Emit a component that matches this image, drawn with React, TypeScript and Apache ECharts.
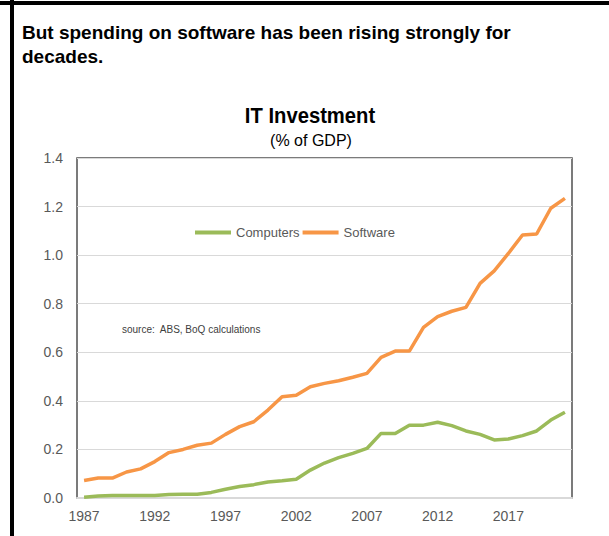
import React, { useEffect, useRef } from "react";
import * as echarts from "echarts";

const years: string[] = [
  "1987","1988","1989","1990","1991","1992","1993","1994","1995","1996",
  "1997","1998","1999","2000","2001","2002","2003","2004","2005","2006",
  "2007","2008","2009","2010","2011","2012","2013","2014","2015","2016",
  "2017","2018","2019","2020","2021",
];

const computers: number[] = [
  0.003, 0.008, 0.010, 0.010, 0.010, 0.010, 0.014, 0.015, 0.015, 0.023,
  0.036, 0.047, 0.055, 0.066, 0.071, 0.077, 0.115, 0.144, 0.166, 0.184,
  0.204, 0.266, 0.266, 0.300, 0.300, 0.312, 0.298, 0.276, 0.262, 0.239,
  0.243, 0.257, 0.276, 0.321, 0.353,
];

const software: number[] = [
  0.072, 0.082, 0.082, 0.107, 0.120, 0.150, 0.187, 0.200, 0.217, 0.226,
  0.262, 0.294, 0.314, 0.362, 0.417, 0.423, 0.458, 0.472, 0.483, 0.497,
  0.513, 0.579, 0.605, 0.605, 0.703, 0.747, 0.769, 0.785, 0.884, 0.935,
  1.007, 1.083, 1.087, 1.193, 1.234,
];

const seriesNames: string[] = ["Computers", "Software"];
const headline: string[] = [
  "But spending on software has been rising strongly for",
  "decades.",
];
const chartTitle = "IT Investment";
const chartSubtitle = "(% of GDP)";
const sourceNote = "source:  ABS, BoQ calculations";

export default function App() {
  const ref = useRef<HTMLDivElement>(null);

  useEffect(() => {
    if (!ref.current) return;
    const chart = echarts.init(ref.current, undefined, { renderer: "svg" });
    const font = "'Liberation Sans', Arial, sans-serif";
    chart.setOption({
      animation: false,
      backgroundColor: "#ffffff",
      textStyle: { fontFamily: font },
      grid: {
        left: 77,
        right: 37,
        top: 158,
        bottom: 38,
        show: true,
        borderColor: "#505050",
        borderWidth: 1.5,
        backgroundColor: "transparent",
      },
      legend: {
        data: seriesNames,
        left: 195,
        top: 226,
        padding: 0,
        icon: "rect",
        itemWidth: 36,
        itemHeight: 4,
        itemGap: 3,
        textStyle: { color: "#595959", fontSize: 13, fontFamily: font },
      },
      xAxis: {
        type: "category",
        data: years,
        boundaryGap: true,
        axisLine: { show: true, lineStyle: { color: "#d9d9d9", width: 2 } },
        axisTick: { show: false },
        axisLabel: {
          interval: 4,
          color: "#595959",
          fontSize: 14,
          margin: 11,
          fontFamily: font,
        },
        splitLine: { show: false },
      },
      yAxis: {
        type: "value",
        min: 0,
        max: 1.4,
        interval: 0.2,
        axisLine: { show: false },
        axisTick: { show: false },
        axisLabel: {
          color: "#595959",
          fontSize: 14,
          margin: 14,
          fontFamily: font,
          formatter: (v: number) => v.toFixed(1),
        },
        splitLine: { show: true, lineStyle: { color: "#d9d9d9", width: 1 } },
      },
      series: [
        {
          name: seriesNames[0],
          type: "line",
          data: computers,
          symbol: "none",
          color: "#9BBB59",
          lineStyle: { width: 3.5, color: "#9BBB59" },
        },
        {
          name: seriesNames[1],
          type: "line",
          data: software,
          symbol: "none",
          color: "#F79646",
          lineStyle: { width: 3.5, color: "#F79646" },
        },
      ],
      graphic: [
        { type: "rect", shape: { x: 0, y: 1, width: 609, height: 4 }, style: { fill: "#000" } },
        { type: "rect", shape: { x: 10, y: 0, width: 4, height: 536 }, style: { fill: "#000" } },
        {
          type: "text",
          x: 22,
          y: 32,
          style: {
            text: headline[0],
            fontSize: 19,
            fontWeight: "bold",
            fontFamily: font,
            fill: "#000",
            verticalAlign: "middle",
          },
        },
        {
          type: "text",
          x: 22,
          y: 56,
          style: {
            text: headline[1],
            fontSize: 19,
            fontWeight: "bold",
            fontFamily: font,
            fill: "#000",
            verticalAlign: "middle",
          },
        },
        {
          type: "text",
          x: 310,
          y: 115,
          scaleX: 0.92,
          style: {
            text: chartTitle,
            fontSize: 22,
            fontFamily: font,
            fontWeight: "bold",
            fill: "#000",
            align: "center",
            verticalAlign: "middle",
          },
        },
        {
          type: "text",
          x: 311,
          y: 140,
          style: {
            text: chartSubtitle,
            fontSize: 16,
            fontFamily: font,
            fill: "#000",
            align: "center",
            verticalAlign: "middle",
          },
        },
        {
          type: "text",
          x: 122,
          y: 329,
          style: {
            text: sourceNote,
            fontSize: 10,
            fontFamily: font,
            fill: "#404040",
            verticalAlign: "middle",
          },
        },
      ],
    });
    return () => chart.dispose();
  }, []);

  return (
    <div
      ref={ref}
      style={{ position: "fixed", left: 0, top: 0, width: 609, height: 536 }}
    />
  );
}
